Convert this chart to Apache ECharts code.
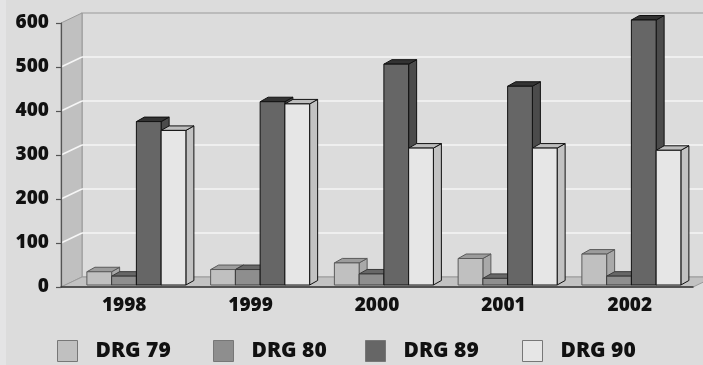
<!DOCTYPE html>
<html>
<head>
<meta charset="utf-8">
<script src="https://cdn.jsdelivr.net/npm/echarts@6/dist/echarts.min.js"></script>
<style>
  html, body { margin: 0; padding: 0; background: #dcdcdc; }
  #chart { width: 703px; height: 365px; }
</style>
</head>
<body>
<div id="chart"></div>
<script>
// Yearly counts per DRG group
const years = ['1998', '1999', '2000', '2001', '2002'];
const drg79 = [30, 35, 50, 60, 70];
const drg80 = [20, 35, 25, 15, 20];
const drg89 = [370, 415, 500, 450, 600];
const drg90 = [350, 410, 310, 310, 305];
const seriesNames = ['DRG 79', 'DRG 80', 'DRG 89', 'DRG 90'];
const yTicks = [0, 100, 200, 300, 400, 500, 600];

// Oblique depth of the chart box and of each bar
const WALL_DX = 21, WALL_DY = -10;
const BAR_DX = 8, BAR_DY = -4.5;
const FONT = '"Open Sans", Lato, sans-serif';

const faces = [
  { front: '#c0c0c0', top: '#9c9c9c', side: '#a9a9a9', stroke: '#5a5a5a' },
  { front: '#8e8e8e', top: '#676767', side: '#747474', stroke: '#3a3a3a' },
  { front: '#666666', top: '#333333', side: '#4b4b4b', stroke: '#111111' },
  { front: '#e6e6e6', top: '#bdbdbd', side: '#c2c2c2', stroke: '#111111' }
];

// Back wall, side wall, floor and gridlines, derived from the front axes
function renderWalls(params, api) {
  const cs = params.coordSys;
  const x0 = cs.x, x1 = cs.x + cs.width;
  const yT = cs.y, yB = cs.y + cs.height;
  const edge = '#9a9a9a';
  const children = [
    { type: 'rect', shape: { x: x0 + WALL_DX, y: yT + WALL_DY, width: cs.width, height: cs.height },
      style: { fill: '#dcdcdc', stroke: edge, lineWidth: 1.2 } },
    { type: 'polygon', shape: { points: [[x0, yT], [x0 + WALL_DX, yT + WALL_DY], [x0 + WALL_DX, yB + WALL_DY], [x0, yB]] },
      style: { fill: '#c0c0c0', stroke: edge, lineWidth: 1 } },
    { type: 'polygon', shape: { points: [[x0, yB], [x1, yB], [x1 + WALL_DX, yB + WALL_DY], [x0 + WALL_DX, yB + WALL_DY]] },
      style: { fill: '#c2c2c2', stroke: edge, lineWidth: 1 } }
  ];
  yTicks.slice(1, -1).forEach(function (v) {
    const y = api.coord([0, v])[1];
    children.push({ type: 'line', shape: { x1: x0, y1: y, x2: x0 + WALL_DX, y2: y + WALL_DY },
      style: { stroke: '#f6f6f6', lineWidth: 1.5 } });
    children.push({ type: 'line', shape: { x1: x0 + WALL_DX, y1: y + WALL_DY, x2: x1 + WALL_DX, y2: y + WALL_DY },
      style: { stroke: '#f6f6f6', lineWidth: 1.5 } });
  });
  return { type: 'group', children: children };
}

// One 3D bar: side, top, then front face
function barRenderer(k) {
  return function (params, api) {
    const ci = api.value(0), v = api.value(1);
    const top = api.coord([ci, v]);
    const base = api.coord([ci, 0]);
    const band = api.size([1, 0])[0];
    const w = band * 0.2;
    const x = top[0] - 2 * w + k * w;
    const yT = top[1], yB = base[1];
    const c = faces[k];
    return {
      type: 'group',
      children: [
        { type: 'polygon', shape: { points: [[x + w, yT], [x + w + BAR_DX, yT + BAR_DY], [x + w + BAR_DX, yB + BAR_DY], [x + w, yB]] },
          style: { fill: c.side, stroke: c.stroke, lineWidth: 1 } },
        { type: 'polygon', shape: { points: [[x, yT], [x + w, yT], [x + w + BAR_DX, yT + BAR_DY], [x + BAR_DX, yT + BAR_DY]] },
          style: { fill: c.top, stroke: c.stroke, lineWidth: 1 } },
        { type: 'rect', shape: { x: x, y: yT, width: w, height: yB - yT },
          style: { fill: c.front, stroke: c.stroke, lineWidth: 1 } }
      ]
    };
  };
}

const values = [drg79, drg80, drg89, drg90];
const barSeries = values.map(function (arr, k) {
  return {
    type: 'custom',
    name: seriesNames[k],
    xAxisIndex: 1,
    yAxisIndex: 1,
    z: 3,
    itemStyle: { color: faces[k].front },
    renderItem: barRenderer(k),
    data: arr.map(function (v, i) { return [i, v]; })
  };
});

const labelStyle = { fontFamily: FONT, fontWeight: 800, fontSize: 19, color: '#111' };
const legendLefts = [57, 213, 365, 522];

const option = {
  backgroundColor: '#dcdcdc',
  animation: false,
  graphic: [
    { type: 'rect', left: 0, top: 0, shape: { width: 6, height: 365 }, style: { fill: '#e4e4e5' }, silent: true }
  ],
  legend: seriesNames.map(function (n, k) {
    return {
      data: [n],
      left: legendLefts[k],
      top: 340,
      padding: 0,
      itemWidth: 20,
      itemHeight: 21,
      icon: 'rect',
      itemStyle: { borderColor: '#777', borderWidth: 1 },
      textStyle: Object.assign({}, labelStyle, { fontSize: 21, padding: [0, 0, 0, 13] })
    };
  }),
  grid: [
    { left: 61, right: 10, top: 23, bottom: 78, containLabel: false },
    { left: 74.5, right: 9.75, top: 20, bottom: 80, containLabel: false }
  ],
  xAxis: [
    {
      type: 'category', gridIndex: 0, data: years, z: 5,
      axisLine: { show: true, lineStyle: { color: '#333', width: 1.5 } },
      axisTick: { show: false },
      axisLabel: Object.assign({ margin: 9 }, labelStyle),
      splitLine: { show: false }
    },
    { type: 'category', gridIndex: 1, data: years, show: false }
  ],
  yAxis: [
    {
      type: 'value', gridIndex: 0, min: 0, max: 600, interval: 100, z: 5,
      axisLine: { show: true, lineStyle: { color: '#555', width: 1.2 } },
      axisTick: { show: true, length: 5, lineStyle: { color: '#555', width: 1.2 } },
      axisLabel: Object.assign({ margin: 12 }, labelStyle),
      splitLine: { show: false }
    },
    { type: 'value', gridIndex: 1, min: 0, max: 600, interval: 100, show: false }
  ],
  series: [
    {
      type: 'custom', name: 'walls', xAxisIndex: 0, yAxisIndex: 0, z: 1, silent: true,
      renderItem: renderWalls, data: [[0, 0]]
    }
  ].concat(barSeries)
};

const chart = echarts.init(document.getElementById('chart'), null, { renderer: 'canvas' });
chart.setOption(option);
</script>
</body>
</html>
